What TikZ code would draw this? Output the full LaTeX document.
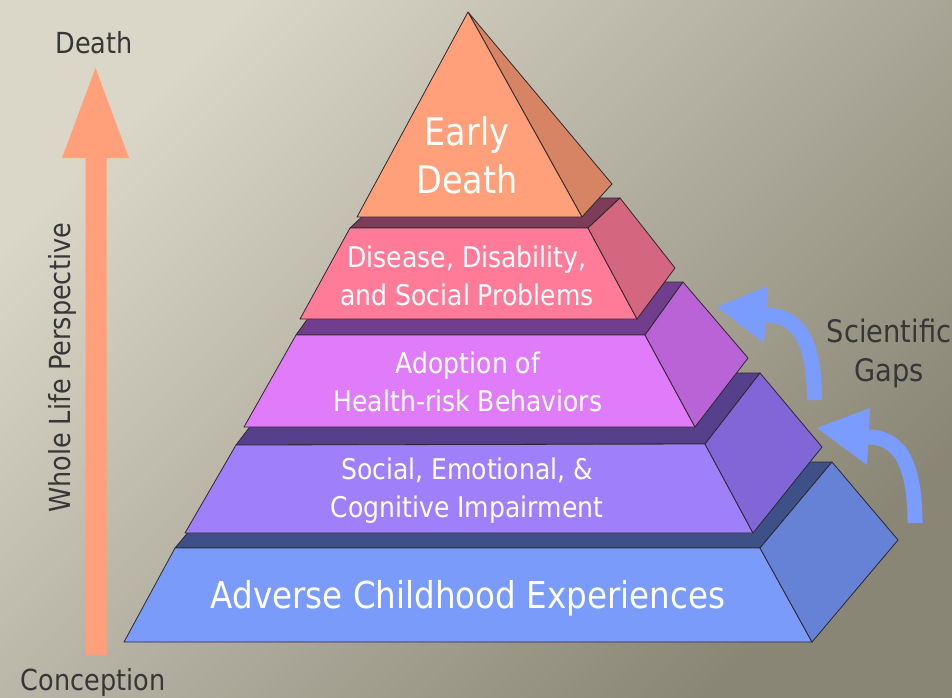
\documentclass[tikz,border=0pt]{standalone}
\usepackage{fontspec}
\setmainfont[FakeStretch=0.88]{DejaVu Sans}
\definecolor{bgtop}{RGB}{218,214,200}
\definecolor{bgbot}{RGB}{138,134,118}
\definecolor{edgecol}{RGB}{45,40,45}
\definecolor{labelcol}{RGB}{55,55,55}
\definecolor{salmon}{RGB}{255,160,122}
\definecolor{salmonside}{RGB}{214,132,100}
\definecolor{pinkfront}{RGB}{255,123,152}
\definecolor{pinkside}{RGB}{212,102,127}
\definecolor{pinktop}{RGB}{125,60,88}
\definecolor{magfront}{RGB}{224,123,250}
\definecolor{magside}{RGB}{186,99,214}
\definecolor{magtop}{RGB}{112,62,140}
\definecolor{violfront}{RGB}{160,127,250}
\definecolor{violside}{RGB}{128,102,214}
\definecolor{violtop}{RGB}{85,64,140}
\definecolor{bluefront}{RGB}{123,155,250}
\definecolor{blueside}{RGB}{102,130,214}
\definecolor{bluetop}{RGB}{62,80,136}
\definecolor{gapblue}{RGB}{122,156,255}
\begin{document}
\begin{tikzpicture}[x=1pt,y=-1pt,
  edge/.style={draw=edgecol, line width=0.8pt, line join=round},
  lbl/.style={text=labelcol, inner sep=0, font=\fontsize{29}{38}\selectfont},
  tiertext/.style={text=white, align=center, inner sep=0, font=\fontsize{28.5}{38}\selectfont},
  gapshaft/.style={draw=gapblue, line width=15pt},
  gaphead/.style={fill=gapblue},
  lifearrow/.style={fill=salmon}]
\useasboundingbox (0,0) rectangle (952,697);
\shade[top color=bgtop, bottom color=bgbot, shading angle=45] (0,0) rectangle (952,697);

% ---- left arrow
\fill[lifearrow] (85.5,655) -- (85.5,158) -- (62,158) -- (95.5,68) -- (129,158) -- (106.5,158) -- (106.5,655) -- cycle;
\node[lbl, anchor=base] (death) at (94,53) {Death};
\node[lbl, anchor=base] (conception) at (93,690) {Conception};
\node[lbl, anchor=base, rotate=90] (whole) at (70,368) {Whole Life Perspective};

% ---- tier 5 (bottom)
\filldraw[fill=bluetop, edge] (175,548) -- (760,548) -- (832,462) -- (247,462) -- cycle;
\filldraw[fill=bluefront, edge] (175,548) -- (760,548) -- (812,642) -- (124,642) -- cycle;
\filldraw[fill=blueside, edge] (760,548) -- (832,462) -- (898,540) -- (812,642) -- cycle;
% ---- tier 4
\filldraw[fill=violtop, edge] (236,445) -- (705,444) -- (760,373) -- (291,373) -- cycle;
\filldraw[fill=violfront, edge] (236,445) -- (705,444) -- (753,533) -- (185,533) -- cycle;
\filldraw[fill=violside, edge] (705,444) -- (760,373) -- (822,447) -- (753,533) -- cycle;
% ---- tier 3
\filldraw[fill=magtop, edge] (296,335) -- (645,335) -- (683,282) -- (334,282) -- cycle;
\filldraw[fill=magfront, edge] (296,335) -- (645,335) -- (695,427) -- (244,427) -- cycle;
\filldraw[fill=magside, edge] (645,335) -- (683,282) -- (748,358) -- (695,427) -- cycle;
% ---- tier 2
\filldraw[fill=pinktop, edge] (350,228) -- (588,228) -- (620,198) -- (382,198) -- cycle;
\filldraw[fill=pinkfront, edge] (350,228) -- (588,228) -- (637,319) -- (300,319) -- cycle;
\filldraw[fill=pinkside, edge] (588,228) -- (620,198) -- (675,268) -- (637,319) -- cycle;
% ---- top
\filldraw[fill=salmonside, edge] (468,12) -- (612,184) -- (582,217) -- cycle;
\filldraw[fill=salmon, edge] (468,12) -- (582,217) -- (357,217) -- cycle;

% ---- tier texts
\node[tiertext, font=\fontsize{38}{48}\selectfont] (t1) at (467,155) {Early\\Death};
\node[tiertext] (t2) at (467,275.5) {Disease, Disability,\\and Social Problems};
\node[tiertext] (t3) at (468,381.5) {Adoption of\\Health-risk Behaviors};
\node[tiertext] (t4) at (467,490.5) {Social, Emotional, \&\\Cognitive Impairment};
\node[tiertext, font=\fontsize{37}{44}\selectfont] (t5) at (468,598.5) {Adverse Childhood Experiences};

% ---- scientific gaps arrows
\coordinate (a1s) at (814.5,400);
\coordinate (a1e) at (766,315);
\coordinate (a2s) at (915,523);
\coordinate (a2e) at (868,437);
\draw[gapshaft] (a1s) .. controls (814.5,335) and (795,316) .. (a1e);
\fill[gaphead] (717,307) -- (768,286) -- (764,343) -- cycle;
\draw[gapshaft] (a2s) .. controls (915,458) and (896,437) .. (a2e);
\fill[gaphead] (817,428) -- (870,408) -- (867,465) -- cycle;
\node[lbl, align=center, font=\fontsize{31}{39}\selectfont] (gaps) at (889,353.5) {Scientific\\Gaps};
\end{tikzpicture}
\end{document}
